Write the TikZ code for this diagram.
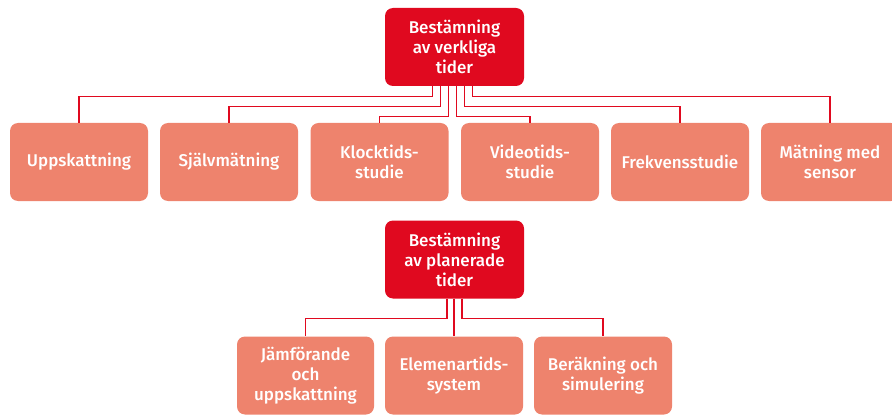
\documentclass[tikz,border=0pt]{standalone}
\usepackage{fontspec}
\setmainfont{Fira Sans}[BoldFont={Fira Sans Medium}]
\definecolor{topred}{HTML}{E0091F}
\definecolor{boxsalmon}{HTML}{EE836D}

\begin{document}
\begin{tikzpicture}[x=1pt,y=-1pt]
\tikzset{
  headbox/.style={rectangle,rounded corners=8pt,fill=topred,minimum width=139pt,minimum height=78pt,
    align=center,text=white,font=\fontsize{17}{20}\selectfont\bfseries},
  leafbox/.style={headbox,fill=boxsalmon,minimum width=138pt},
  link/.style={draw=topred,line width=1.3pt}
}
\useasboundingbox (0,0) rectangle (892,417);
% verkliga tider
\node[headbox] (n_verk) at (454.5,47.00) {Bestämning\\av verkliga\\tider};
\node[leafbox] (n_upp) at (79.00,162.00) {Uppskattning};
\node[leafbox] (n_sjalv) at (229.00,162.00) {Självmätning};
\node[leafbox] (n_klock) at (379.50,162.00) {Klocktids-\\studie};
\node[leafbox] (n_video) at (530.00,162.00) {Videotids-\\studie};
\node[leafbox] (n_frekv) at (680.00,162.00) {Frekvensstudie};
\node[leafbox] (n_sensor) at (830.00,162.00) {Mätning med\\sensor};
\draw[link] ([xshift=-22pt]n_verk.south) -- ++(0,10) -| (n_upp.north);
\draw[link] ([xshift=-14pt]n_verk.south) -- ++(0,20) -| (n_sjalv.north);
\draw[link] ([xshift=-6pt]n_verk.south) -- ++(0,30) -| (n_klock.north);
\draw[link] ([xshift=2pt]n_verk.south) -- ++(0,30) -| (n_video.north);
\draw[link] ([xshift=10pt]n_verk.south) -- ++(0,20) -| (n_frekv.north);
\draw[link] ([xshift=18pt]n_verk.south) -- ++(0,10) -| (n_sensor.north);
% planerade tider
\node[headbox] (n_plan) at (454.5,259.50) {Bestämning\\av planerade\\tider};
\node[leafbox,minimum width=137pt] (n_jamf) at (305.50,375.50) {Jämförande\\och\\uppskattning};
\node[leafbox] (n_elem) at (454.00,375.50) {Elemenartids-\\system};
\node[leafbox] (n_berak) at (603.00,375.50) {Beräkning och\\simulering};
\draw[link] ([xshift=-7.5pt]n_plan.south) -- ++(0,20) -| (n_jamf.north);
\draw[link] (n_plan.south -| n_elem.north) -- (n_elem.north);
\draw[link] ([xshift=7.5pt]n_plan.south) -- ++(0,20) -| (n_berak.north);
\end{tikzpicture}
\end{document}
